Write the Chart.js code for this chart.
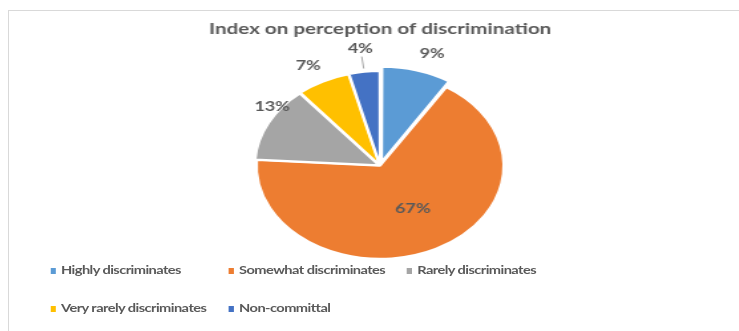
<!DOCTYPE html>
<html>
<head>
<meta charset="utf-8">
<script src="https://cdn.jsdelivr.net/npm/chart.js@4.4.1/dist/chart.umd.min.js"></script>
<style>
  html, body { margin: 0; padding: 0; background: #fff; width: 739px; height: 331px; overflow: hidden; }
  #frame { position: absolute; left: 8px; top: 10px; width: 800px; height: 400px;
           border-left: 1px solid #d9d9d9; border-top: 1px solid #d9d9d9; }
  #stage { position: absolute; left: 0; top: 0; width: 556px; height: 331px;
           transform: scaleX(1.329); transform-origin: 0 0; }
  #chart { position: absolute; left: 0; top: 0; }
  .lg { position: absolute; height: 16px; line-height: 16px; white-space: nowrap;
        font-family: Lato, "Open Sans", sans-serif; font-weight: bold; font-size: 11px;
        letter-spacing: -0.42px; color: #595959; }
  .lg i { display: inline-block; width: 4.5px; height: 6px; margin-right: 3.8px; vertical-align: 0.5px; }
</style>
</head>
<body>
<div id="frame"></div>
<div id="stage">
  <canvas id="chart" width="556" height="331"></canvas>
</div>
<script>
const chartTitle = 'Index on perception of discrimination';
const categories = ['Highly discriminates', 'Somewhat discriminates', 'Rarely discriminates', 'Very rarely discriminates', 'Non-committal'];
const shares = [9, 67, 13, 7, 4];
const sliceColors = ['#5B9BD5', '#ED7D31', '#A5A5A5', '#FFC000', '#4472C4'];

const pctLabels = {
  id: 'pctLabels',
  afterDatasetsDraw(chart, args, opts) {
    const ctx = chart.ctx;
    const meta = chart.getDatasetMeta(0);
    const total = shares.reduce((a, b) => a + b, 0);
    ctx.save();
    ctx.font = 'bold ' + opts.size + 'px Lato, "Open Sans", sans-serif';
    ctx.fillStyle = '#595959';
    ctx.textAlign = 'center';
    ctx.textBaseline = 'middle';
    meta.data.forEach((arc, i) => {
      const p = arc.getProps(['x', 'y', 'startAngle', 'endAngle', 'outerRadius'], true);
      const mid = (p.startAngle + p.endAngle) / 2 + opts.angleNudge[i] * Math.PI / 180;
      const d = p.outerRadius * opts.dist[i];
      const lx = p.x + Math.cos(mid) * d;
      const ly = p.y + Math.sin(mid) * d;
      ctx.fillText(Math.round(shares[i] / total * 100) + '%', lx, ly);
      if (opts.leader[i]) {
        const r0 = d - 8;
        const r1 = p.outerRadius + arc.options.offset + 1;
        ctx.strokeStyle = '#a6a6a6';
        ctx.lineWidth = 1;
        ctx.beginPath();
        ctx.moveTo(p.x + Math.cos(mid) * r0, p.y + Math.sin(mid) * r0);
        ctx.lineTo(p.x + Math.cos(mid) * r1, p.y + Math.sin(mid) * r1);
        ctx.stroke();
      }
    });
    ctx.restore();
  }
};

const chart = new Chart(document.getElementById('chart'), {
  type: 'pie',
  data: {
    labels: categories,
    datasets: [{
      data: shares,
      backgroundColor: sliceColors,
      borderColor: '#ffffff',
      borderWidth: 2,
      offset: [17, 0, 4, 4, 4],
      radius: 93
    }]
  },
  options: {
    responsive: false,
    animation: false,
    layout: { padding: { left: 16, right: 0, top: 0, bottom: 44 } },
    plugins: {
      legend: { display: false },
      tooltip: { enabled: false },
      title: {
        display: true,
        text: chartTitle,
        color: '#595959',
        font: { family: 'Lato, "Open Sans", sans-serif', size: 15.5, weight: 'bold' },
        padding: { top: 20, bottom: 6 }
      },
      pctLabels: {
        size: 13.5,
        dist: [1.28, 0.53, 1.08, 1.22, 1.27],
        angleNudge: [3, -3, 9, -1.5, 0],
        leader: [false, false, false, false, true]
      }
    }
  },
  plugins: [pctLabels]
});

// Legend laid out in columns, built from the chart's own labels and colours
const stage = document.getElementById('stage');
const colW = 134, left0 = 37.6, rowY = [262, 300];
chart.data.labels.forEach((lab, i) => {
  const col = i < 3 ? i : i - 3;
  const row = i < 3 ? 0 : 1;
  const el = document.createElement('div');
  el.className = 'lg';
  el.style.left = (left0 + col * colW) + 'px';
  el.style.top = rowY[row] + 'px';
  const sw = document.createElement('i');
  sw.style.background = chart.data.datasets[0].backgroundColor[i];
  el.appendChild(sw);
  el.appendChild(document.createTextNode(lab));
  stage.appendChild(el);
});
</script>
</body>
</html>
